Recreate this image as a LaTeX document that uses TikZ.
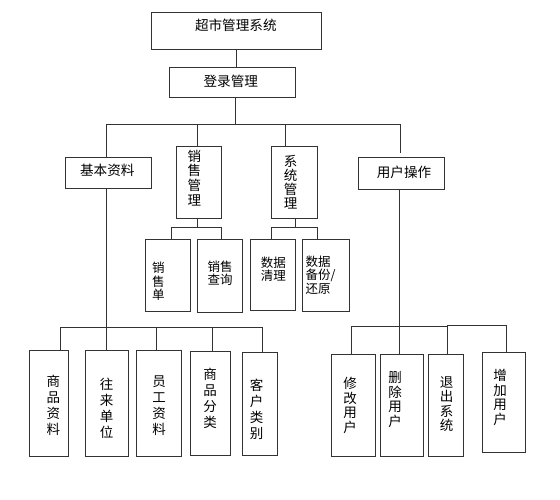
\documentclass[tikz,border=0pt]{standalone}
\usepackage{fontspec}
\newfontfamily\cjk{Noto Sans CJK SC}
\begin{document}
\begin{tikzpicture}[x=1pt,y=-1pt,
  box/.style={draw=black!80, line width=0.8pt, inner sep=0pt},
  conn/.style={draw=black!80, line width=0.8pt},
  txt/.style={inner sep=0pt, align=center, font=\cjk\fontsize{13.6}{15}\selectfont},
  txts/.style={inner sep=0pt, align=center, font=\cjk\fontsize{12.5}{13.5}\selectfont},
  txtl/.style={inner sep=0pt, align=center, font=\cjk\fontsize{13.5}{16}\selectfont},
  txtr/.style={inner sep=0pt, align=center, font=\cjk\fontsize{13.5}{14.5}\selectfont}]
\fill[white] (0,0) rectangle (560,500);
\useasboundingbox (0,0) rectangle (560,500);
% boxes
\node[box, minimum width=170pt, minimum height=36.7pt] (sys) at (236.7,30.7) {};
\node[box, minimum width=126pt, minimum height=30pt] (login) at (232,82.7) {};
\node[box, minimum width=86pt, minimum height=31pt] (jb) at (108.7,172.8) {};
\node[box, minimum width=45.4pt, minimum height=72pt] (xs) at (199,182) {};
\node[box, minimum width=46pt, minimum height=72pt] (xt) at (294.3,182) {};
\node[box, minimum width=85.7pt, minimum height=31.5pt] (yh) at (401.2,173.3) {};
\node[box, minimum width=45pt, minimum height=72.4pt] (xsd) at (167.5,275.5) {};
\node[box, minimum width=44.6pt, minimum height=73pt] (xscx) at (220,275.8) {};
\node[box, minimum width=45pt, minimum height=71.4pt] (sjql) at (273.2,275) {};
\node[box, minimum width=46.7pt, minimum height=71.7pt] (sjbf) at (325.7,275.2) {};
\node[box, minimum width=39pt, minimum height=106pt] (b1) at (48.8,403) {};
\node[box, minimum width=43pt, minimum height=106pt] (b2) at (106.5,403) {};
\node[box, minimum width=45pt, minimum height=106pt] (b3) at (159.2,403) {};
\node[box, minimum width=40pt, minimum height=103.3pt] (b4) at (210,403.3) {};
\node[box, minimum width=34.6pt, minimum height=103pt] (b5) at (260,404.2) {};
\node[box, minimum width=44pt, minimum height=101.7pt] (r1) at (353,405.2) {};
\node[box, minimum width=42.8pt, minimum height=101.7pt] (r2) at (401.9,405.2) {};
\node[box, minimum width=34.3pt, minimum height=101.7pt] (r3) at (445.9,405.2) {};
\node[box, minimum width=43pt, minimum height=100.4pt] (r4) at (504,402.5) {};
% texts
\node[txt] (tsys) at (235.8,25.7) {超市管理系统};
\node[txt] (tlogin) at (230.8,81.7) {登录管理};
\node[txt] (tjb) at (107.3,170) {基本资料};
\node[txt] (tyh) at (404,172.7) {用户操作};
\node[txt, font=\cjk\fontsize{13.5}{14.8}\selectfont] (txs) at (194.3,178) {销\\售\\管\\理};
\node[txt, font=\cjk\fontsize{13.5}{14}\selectfont] (txt2) at (290.7,182.5) {系\\统\\管\\理};
\node[txts] (txsd) at (158.3,281.7) {销\\售\\单};
\node[txts, font=\cjk\fontsize{12.5}{12.5}\selectfont] (txscx) at (220,273.3) {销售\\查询};
\node[txts, font=\cjk\fontsize{12.5}{12.5}\selectfont] (tsjql) at (273.3,269.2) {数据\\清理};
\node[txts, align=left, anchor=west] (tsjbf) at (305.3,275) {数据\\备份/\\还原};
\node[txtl] (tb1) at (53.3,405) {商\\品\\资\\料};
\node[txtl] (tb2) at (106.7,408.3) {往\\来\\单\\位};
\node[txtl] (tb3) at (159,405.8) {员\\工\\资\\料};
\node[txtl] (tb4) at (210,398.3) {商\\品\\分\\类};
\node[txtl] (tb5) at (256.7,409) {客\\户\\类\\别};
\node[txtr] (tr1) at (350,405.5) {修\\改\\用\\户};
\node[txtr] (tr2) at (395,399.3) {删\\除\\用\\户};
\node[txtr] (tr3) at (446.7,404.2) {退\\出\\系\\统};
\node[txtr] (tr4) at (500,397.5) {增\\加\\用\\户};
% connectors top
\draw[conn] (sys.south) -- (sys.south |- login.north);
\coordinate (busc) at (235.3,124.3);
\draw[conn] (login.south -| busc) -- (busc);
\coordinate (bl) at (106,124.3);
\coordinate (bm1) at (197.7,124.3);
\coordinate (bm2) at (285.7,124.3);
\coordinate (br) at (400,124.3);
\coordinate (yhtop) at (400,153);
\draw[conn] (bl) -- (br);
\draw[conn] (bl) -- (bl |- jb.north);
\draw[conn] (bm1) -- (bm1 |- xs.north);
\draw[conn] (bm2) -- (bm2 |- xt.north);
\draw[conn] (br) -- (yhtop);
% sales sub
\coordinate (s1) at (197.7,227.3);
\coordinate (s1l) at (171,227.3);
\coordinate (s1r) at (221.7,227.3);
\draw[conn] (xs.south -| s1) -- (s1);
\draw[conn] (s1l) -- (s1r);
\draw[conn] (s1l) -- (s1l |- xsd.north);
\draw[conn] (s1r) -- (s1r |- xscx.north);
% system sub
\coordinate (s2) at (295.7,227.3);
\coordinate (s2l) at (271.7,227.3);
\coordinate (s2r) at (317.3,227.3);
\draw[conn] (xt.south -| s2) -- (s2);
\draw[conn] (s2l) -- (s2r);
\draw[conn] (s2l) -- (s2l |- sjql.north);
\draw[conn] (s2r) -- (s2r |- sjbf.north);
% lower left
\coordinate (l1) at (60,327);
\coordinate (l2) at (106,327);
\coordinate (l3) at (156.7,327);
\coordinate (l4) at (212.7,327);
\coordinate (l5) at (262,327);
\draw[conn] (jb.south -| l2) -- (l2);
\draw[conn] (l1) -- (l5);
\draw[conn] (l1) -- (l1 |- b1.north);
\draw[conn] (l2) -- (l2 |- b2.north);
\draw[conn] (l3) -- (l3 |- b3.north);
\draw[conn] (l4) -- (l4 |- b4.north);
\draw[conn] (l5) -- (l5 |- b5.north);
% lower right
\coordinate (q1) at (351,326.5);
\coordinate (q2) at (399.3,326.5);
\coordinate (q3) at (447.7,326.5);
\coordinate (q3b) at (447.7,325.3);
\coordinate (q4) at (506,325.3);
\draw[conn] (yh.south -| q2) -- (q2 |- r2.north);
\draw[conn] (q1) -- (q3);
\draw[conn] (q3b) -- (q4);
\draw[conn] (q1) -- (q1 |- r1.north);
\draw[conn] (q3b) -- (q3 |- r3.north);
\draw[conn] (q4) -- (q4 |- r4.north);
\end{tikzpicture}
\end{document}
